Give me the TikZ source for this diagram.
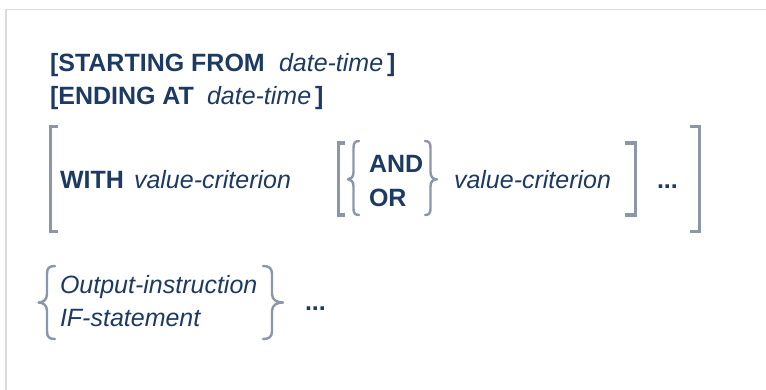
\documentclass[tikz,border=0pt]{standalone}
\usepackage{fontspec}
\setmainfont{Liberation Sans}
\definecolor{txt}{HTML}{1C3A63}
\definecolor{brk}{HTML}{8C96A8}
\definecolor{framec}{HTML}{DADBE1}
\begin{document}
\begin{tikzpicture}[x=1pt,y=-1pt,
  every node/.style={inner sep=0pt, outer sep=0pt, anchor=base west, text=txt},
  kw/.style={font=\fontsize{25}{30}\selectfont\bfseries},
  var/.style={font=\fontsize{25}{30}\selectfont\itshape},
  brack/.style={draw=brk, line width=3.4pt, line cap=butt, line join=miter},
  brace/.style={draw=brk, line width=2.4pt, line cap=round, line join=round},
]
\useasboundingbox (0,0) rectangle (766,390);
\fill[white] (0,0) rectangle (766,390);
\draw[framec, line width=1.6pt] (766,9.5) -- (6,9.5) -- (6,390);

% line 1
\node[kw]  (s1) at (50,71.3) {[STARTING FROM};
\node[var] (d1) at (279,71.3) {date-time};
\node[kw]  (e1) at (387,71.3) {]};
% line 2
\node[kw]  (s2) at (50,105) {[ENDING AT};
\node[var] (d2) at (207,105) {date-time};
\node[kw]  (e2) at (315,105) {]};

% WITH block
\draw[brack] (58,126.7) -- (50.5,126.7) -- (50.5,231.3) -- (58,231.3);
\draw[brack] (690,126.7) -- (699.5,126.7) -- (699.5,231.3) -- (690,231.3);
\node[kw]  (with) at (60,189) {WITH};
\node[var] (vc1) at (134,189) {value-criterion};
\draw[brack] (345,143) -- (338.3,143) -- (338.3,215) -- (345,215);
\draw[brace] (359,141) .. controls (355,141) and (353.5,143) .. (353.5,148) -- (353.5,172) .. controls (353.5,177) and (351,179.3) .. (348,179.3) .. controls (351,179.3) and (353.5,181.5) .. (353.5,186.5) -- (353.5,209) .. controls (353.5,213) and (355,215) .. (359,215);
\node[kw] (and) at (369,173) {AND};
\node[kw] (or)  at (369,207) {OR};
\draw[brace] (425,141) .. controls (429,141) and (430.5,143) .. (430.5,148) -- (430.5,172) .. controls (430.5,177) and (433,179.3) .. (437,179.3) .. controls (433,179.3) and (430.5,181.5) .. (430.5,186.5) -- (430.5,209) .. controls (430.5,213) and (429,215) .. (425,215);
\node[var] (vc2) at (454,189) {value-criterion};
\draw[brack] (625,143) -- (635.5,143) -- (635.5,215) -- (625,215);
\node[kw] (dots1) at (657,189) {...};

% output block
\draw[brace] (55,266) .. controls (49,266) and (47,268) .. (47,274) -- (47,294) .. controls (47,300) and (43,302.5) .. (38.5,302.5) .. controls (43,302.5) and (47,305) .. (47,311) -- (47,331) .. controls (47,337) and (49,339) .. (55,339);
\node[var] (oi) at (60,293.5) {Output-instruction};
\node[var] (ifs) at (60,326) {IF-statement};
\draw[brace] (263,266) .. controls (269,266) and (272,268) .. (272,274) -- (272,294) .. controls (272,300) and (277,302.5) .. (283,302.5) .. controls (277,302.5) and (272,305) .. (272,311) -- (272,331) .. controls (272,337) and (269,339) .. (263,339);
\node[kw] (dots2) at (305,310) {...};
\end{tikzpicture}
\end{document}
